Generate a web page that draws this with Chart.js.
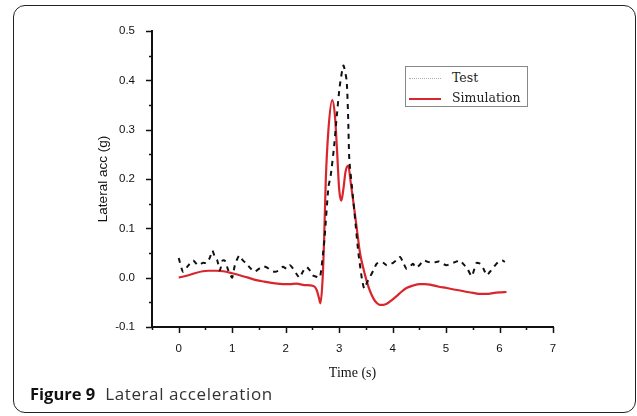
<!DOCTYPE html>
<html>
<head>
<meta charset="utf-8">
<script src="https://cdn.jsdelivr.net/npm/chart.js@4.4.1/dist/chart.umd.min.js"></script>
<style>
  html, body { margin: 0; padding: 0; background: #fff; }
  #wrap { position: relative; width: 637px; height: 416px; overflow: hidden; }
  #chart { position: absolute; left: 0; top: 0; }
  #frame {
    position: absolute; left: 13px; top: 5px; width: 623px; height: 408px;
    box-sizing: border-box; border: 1.3px solid #222; border-radius: 12px;
  }
  #caption {
    position: absolute; left: 30px; top: 382px;
    font-family: "Open Sans", sans-serif; font-size: 17px; color: #333;
    white-space: nowrap; letter-spacing: 0.6px;
  }
  #caption b { color: #111; font-weight: 700; margin-right: 5px; font-size: 16.5px; letter-spacing: 0; }
  #legend {
    position: absolute; left: 405px; top: 66px; width: 123px; height: 41px;
    box-sizing: border-box; border: 1px solid #888; background: #fff;
    font-family: "DejaVu Serif", serif; font-size: 12.5px; color: #222;
  }
  .row { position: absolute; left: 0; height: 18px; line-height: 18px; }
  .sample { position: absolute; left: 3px; width: 32px; top: 9px; }
  .txt { position: absolute; left: 46px; top: 0; }
</style>
</head>
<body>
<div id="wrap">
  <canvas id="chart" width="637" height="416"></canvas>
  <div id="legend"></div>
  <div id="frame"></div>
  <div id="caption"><b>Figure 9</b> Lateral acceleration</div>
</div>
<script>
// Test (measured) - dashed black
const testTime = [0.00, 0.08, 0.18, 0.27, 0.36, 0.45, 0.52, 0.58, 0.63, 0.68, 0.72, 0.77, 0.82, 0.86, 0.92, 0.97,
  1.00, 1.05, 1.13, 1.20, 1.27, 1.35, 1.42, 1.50, 1.58, 1.66, 1.73, 1.80, 1.88, 1.95, 2.02, 2.08, 2.14, 2.20,
  2.26, 2.32, 2.39, 2.45, 2.50, 2.57, 2.64, 2.70, 2.73, 2.80, 2.84, 2.90, 2.95, 3.01, 3.08, 3.14, 3.17, 3.19,
  3.24, 3.30, 3.36, 3.43, 3.47, 3.52, 3.58, 3.64, 3.70, 3.76, 3.83, 3.89, 3.95, 4.01, 4.08, 4.14, 4.20, 4.26,
  4.32, 4.38, 4.44, 4.50, 4.58, 4.66, 4.76, 4.86, 4.94, 5.01, 5.08, 5.18, 5.26, 5.32, 5.40, 5.48, 5.57, 5.64,
  5.70, 5.76, 5.82, 5.88, 5.94, 5.98, 6.05, 6.10];
const testAcc = [0.040, 0.012, 0.025, 0.035, 0.025, 0.030, 0.030, 0.040, 0.055, 0.040, 0.035, 0.015, 0.035, 0.035, 0.017, 0.005,
  0.000, 0.025, 0.045, 0.035, 0.028, 0.018, 0.012, 0.018, 0.023, 0.020, 0.014, 0.012, 0.015, 0.022, 0.018, 0.025, 0.018, 0.008,
  0.000, 0.012, 0.022, 0.015, 0.005, 0.002, 0.000, 0.050, 0.084, 0.184, 0.205, 0.260, 0.320, 0.387, 0.430, 0.400, 0.320, 0.240,
  0.184, 0.117, 0.050, -0.005, -0.022, -0.010, 0.002, 0.015, 0.028, 0.032, 0.030, 0.025, 0.027, 0.030, 0.036, 0.042, 0.030, 0.018,
  0.022, 0.028, 0.020, 0.025, 0.035, 0.032, 0.030, 0.033, 0.028, 0.025, 0.028, 0.032, 0.035, 0.028, 0.018, 0.003, 0.030, 0.028,
  0.018, 0.005, 0.012, 0.020, 0.028, 0.032, 0.035, 0.032];

// Simulation - solid red
const simTime = [0.00, 0.15, 0.30, 0.45, 0.55, 0.70, 0.83, 1.00, 1.14, 1.30, 1.45, 1.60, 1.77, 1.95, 2.08, 2.20, 2.35,
  2.52, 2.58, 2.62, 2.65, 2.69, 2.72, 2.75, 2.80, 2.87, 2.92, 2.96, 3.00, 3.04, 3.08, 3.12, 3.17, 3.22, 3.27,
  3.33, 3.39, 3.45, 3.51, 3.57, 3.64, 3.70, 3.76, 3.83, 3.89, 3.98, 4.07, 4.16, 4.26, 4.38, 4.51, 4.60, 4.70,
  4.85, 5.01, 5.15, 5.26, 5.40, 5.51, 5.65, 5.76, 5.90, 6.00, 6.13];
const simAcc = [0.000, 0.004, 0.009, 0.013, 0.014, 0.014, 0.013, 0.009, 0.005, 0.000, -0.005, -0.008, -0.011, -0.013, -0.013, -0.012, -0.015,
  -0.017, -0.025, -0.040, -0.052, -0.005, 0.080, 0.197, 0.300, 0.360, 0.330, 0.260, 0.180, 0.156, 0.180, 0.215, 0.227, 0.190, 0.150,
  0.100, 0.050, 0.020, -0.005, -0.025, -0.042, -0.051, -0.055, -0.055, -0.053, -0.046, -0.038, -0.029, -0.021, -0.016, -0.013, -0.013, -0.014,
  -0.018, -0.021, -0.024, -0.026, -0.029, -0.031, -0.033, -0.033, -0.031, -0.030, -0.029];

const seriesNames = ['Test', 'Simulation'];
const xTitle = 'Time (s)';
const yTitle = 'Lateral acc (g)';

const toPoints = (xs, ys) => xs.map((x, i) => ({ x: x, y: ys[i] }));

// little outward ticks, long for labelled ones, short for the halves
const axisTicks = {
  id: 'axisTicks',
  afterDraw(chart) {
    const ctx = chart.ctx;
    const xs = chart.scales.x, ys = chart.scales.y;
    const area = chart.chartArea;
    ctx.save();
    ctx.strokeStyle = '#111';
    ctx.lineWidth = 1.5;
    ctx.beginPath();
    ys.ticks.forEach(t => {
      const py = Math.round(ys.getPixelForValue(t.value)) + 0.5;
      const major = Math.abs(t.value * 10 - Math.round(t.value * 10)) < 1e-6;
      ctx.moveTo(area.left, py);
      ctx.lineTo(area.left - (major ? 6 : 3), py);
    });
    xs.ticks.forEach(t => {
      const px = Math.round(xs.getPixelForValue(t.value)) + 0.5;
      const major = Math.abs(t.value - Math.round(t.value)) < 1e-6;
      ctx.moveTo(px, area.bottom);
      ctx.lineTo(px, area.bottom + (major ? 6 : 3));
    });
    ctx.stroke();
    ctx.restore();
  }
};

const chart = new Chart(document.getElementById('chart'), {
  type: 'line',
  data: {
    datasets: [{
      label: seriesNames[0],
      data: toPoints(testTime, testAcc),
      borderColor: '#111',
      borderWidth: 2,
      borderDash: [5, 5],
      pointRadius: 0,
      tension: 0.2,
      fill: false
    }, {
      label: seriesNames[1],
      data: toPoints(simTime, simAcc),
      borderColor: '#d9262c',
      borderWidth: 2.2,
      pointRadius: 0,
      cubicInterpolationMode: 'monotone',
      fill: false
    }]
  },
  options: {
    responsive: false,
    animation: false,
    layout: { padding: { left: 95, top: 31, right: 84, bottom: 29 } },
    plugins: { legend: { display: false }, tooltip: { enabled: false } },
    scales: {
      x: {
        type: 'linear', min: -0.5, max: 7,
        afterFit: (s) => { s.height = 60; },
        grid: { display: false },
        border: { display: true, color: '#111', width: 2 },
        ticks: {
          stepSize: 0.5, autoSkip: false, maxRotation: 0, padding: 7,
          color: '#111', font: { family: 'Liberation Sans', size: 11.5 },
          callback: (v) => Math.abs(v - Math.round(v)) < 1e-6 ? String(Math.round(v)) : ''
        },
        title: {
          display: true, text: xTitle, color: '#111', padding: { top: 4, bottom: 5 },
          font: { family: 'Liberation Serif', size: 14 }
        }
      },
      y: {
        min: -0.1, max: 0.5,
        afterFit: (s) => { s.width = 57; },
        grid: { display: false },
        border: { display: true, color: '#111', width: 2 },
        ticks: {
          stepSize: 0.05, autoSkip: false, padding: 9,
          color: '#111', font: { family: 'Liberation Sans', size: 11.5 },
          callback: (v) => Math.abs(v * 10 - Math.round(v * 10)) < 1e-6 ? (Math.round(v * 10) / 10).toFixed(1) : ''
        },
        title: {
          display: true, text: yTitle, color: '#111', padding: { top: 0, bottom: 0 },
          font: { family: 'Liberation Sans', size: 13.5 }
        }
      }
    }
  },
  plugins: [axisTicks]
});

// legend box inside the plot, built from the datasets
const legend = document.getElementById('legend');
chart.data.datasets.forEach((ds, i) => {
  const row = document.createElement('div');
  row.className = 'row';
  row.style.top = (2 + i * 20) + 'px';
  row.style.width = '100%';
  const sample = document.createElement('div');
  sample.className = 'sample';
  sample.style.borderTop = ds.borderDash ? '1.5px dotted #aaa' : '2px solid ' + ds.borderColor;
  const txt = document.createElement('div');
  txt.className = 'txt';
  txt.textContent = ds.label;
  row.appendChild(sample);
  row.appendChild(txt);
  legend.appendChild(row);
});
</script>
</body>
</html>
